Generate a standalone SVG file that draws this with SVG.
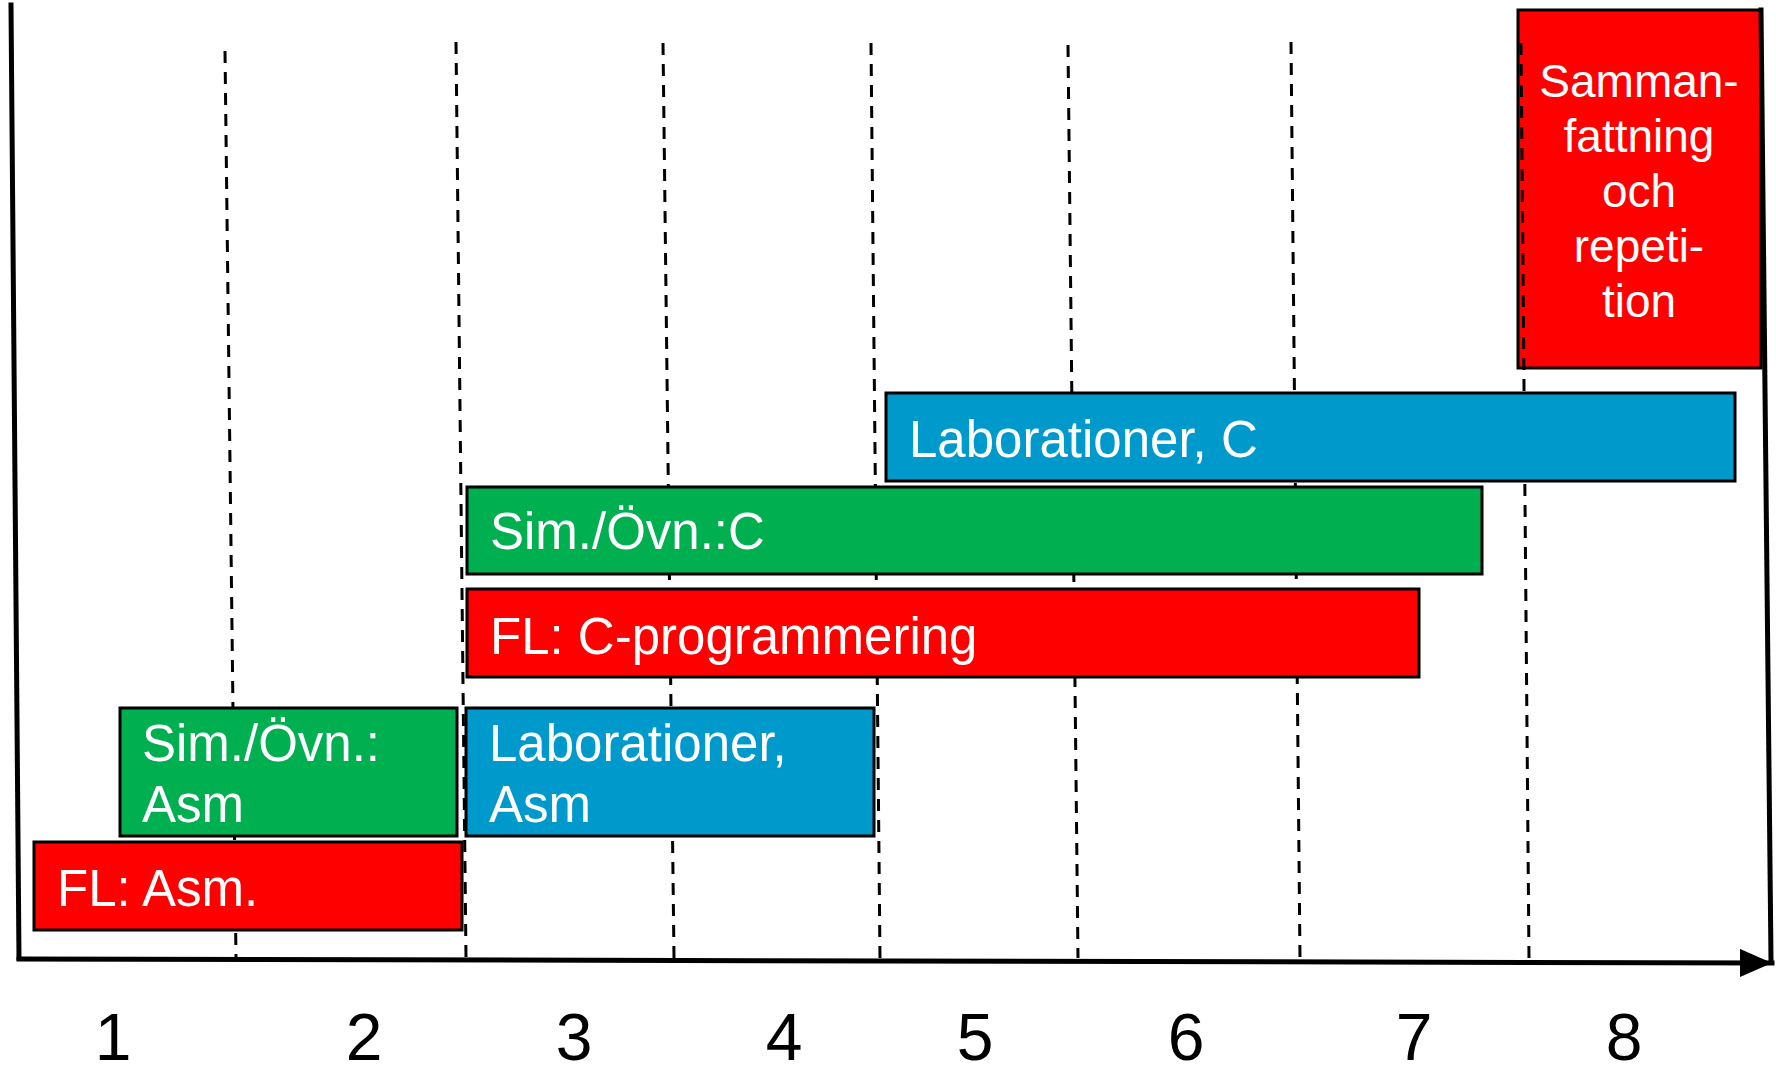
<svg xmlns="http://www.w3.org/2000/svg" width="1776" height="1070" viewBox="0 0 1776 1070">
  <style>
    .bar { stroke: #000; stroke-width: 3; }
    .red { fill: #FF0000; }
    .green { fill: #00B050; }
    .blue { fill: #0099CC; }
    .lbl { font-family: "Liberation Sans", Arial, sans-serif; font-size: 51px; fill: #fff; }
    .lbl-s { font-family: "Liberation Sans", Arial, sans-serif; font-size: 46px; fill: #fff; text-anchor: middle; }
    .num { font-family: "Liberation Sans", Arial, sans-serif; font-size: 66px; fill: #000; text-anchor: middle; }
    .grid { stroke: #000; stroke-width: 3; stroke-dasharray: 12 9; fill: none; }
    .axis { stroke: #000; stroke-width: 5; fill: none; stroke-linecap: square; }
  </style>
  <defs>
    <marker id="arrow" viewBox="0 0 32 28" refX="32" refY="14" markerWidth="32" markerHeight="28" markerUnits="userSpaceOnUse" orient="auto">
      <path d="M0,0 L32,14 L0,28 Z" fill="#000"/>
    </marker>
  </defs>

  <rect width="1776" height="1070" fill="#fff"/>

  <!-- week 8: summary block (sits beneath the week grid) -->
  <g id="node-sammanfattning">
    <rect class="bar red" x="1518" y="10" width="243" height="358"/>
    <text class="lbl-s" x="1639" y="97">Samman-</text>
    <text class="lbl-s" x="1639" y="152">fattning</text>
    <text class="lbl-s" x="1639" y="207">och</text>
    <text class="lbl-s" x="1639" y="262">repeti-</text>
    <text class="lbl-s" x="1639" y="317">tion</text>
  </g>

  <!-- week separators -->
  <g id="grid">
    <line class="grid" x1="225" y1="51" x2="236" y2="958"/>
    <line class="grid" x1="456" y1="42" x2="466" y2="958"/>
    <line class="grid" x1="663" y1="43" x2="674" y2="958"/>
    <line class="grid" x1="871" y1="43" x2="880" y2="958"/>
    <line class="grid" x1="1068" y1="45" x2="1078" y2="958"/>
    <line class="grid" x1="1291" y1="42" x2="1300" y2="958"/>
    <line class="grid" x1="1521" y1="43" x2="1529" y2="958"/>
  </g>

  <!-- activity bars -->
  <g id="node-fl-asm">
    <rect class="bar red" x="34" y="842" width="428" height="88"/>
    <text class="lbl" x="57" y="906">FL: Asm.</text>
  </g>
  <g id="node-sim-asm">
    <rect class="bar green" x="120" y="708" width="337" height="128"/>
    <text class="lbl" x="142" y="761">Sim./Övn.:</text>
    <text class="lbl" x="142" y="822">Asm</text>
  </g>
  <g id="node-lab-asm">
    <rect class="bar blue" x="466" y="708" width="408" height="128"/>
    <text class="lbl" x="489" y="761">Laborationer,</text>
    <text class="lbl" x="489" y="822">Asm</text>
  </g>
  <g id="node-fl-c">
    <rect class="bar red" x="467" y="589" width="952" height="88"/>
    <text class="lbl" x="490" y="654">FL: C-programmering</text>
  </g>
  <g id="node-sim-c">
    <rect class="bar green" x="467" y="487" width="1015" height="87"/>
    <text class="lbl" x="490" y="549">Sim./Övn.:C</text>
  </g>
  <g id="node-lab-c">
    <rect class="bar blue" x="886" y="393" width="849" height="88"/>
    <text class="lbl" x="909" y="457">Laborationer, C</text>
  </g>

  <!-- axes -->
  <g id="connectors">
    <line class="axis" x1="11" y1="5" x2="19" y2="958"/>
    <line class="axis" x1="1761" y1="10" x2="1771" y2="960" stroke-linecap="butt"/>
    <line class="axis" x1="19" y1="959" x2="1772" y2="963" stroke-linecap="butt" marker-end="url(#arrow)"/>
  </g>

  <!-- week numbers -->
  <g id="week-numbers">
    <text class="num" x="113" y="1060">1</text>
    <text class="num" x="364" y="1060">2</text>
    <text class="num" x="574" y="1060">3</text>
    <text class="num" x="784" y="1060">4</text>
    <text class="num" x="975" y="1060">5</text>
    <text class="num" x="1186" y="1060">6</text>
    <text class="num" x="1414" y="1060">7</text>
    <text class="num" x="1624" y="1060">8</text>
  </g>
</svg>
